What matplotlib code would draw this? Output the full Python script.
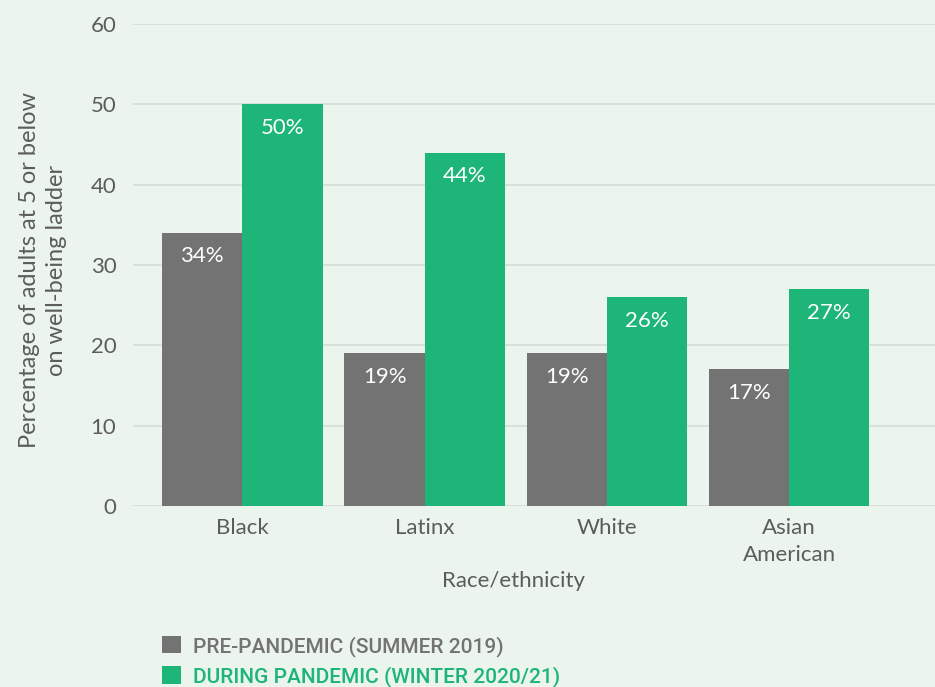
import matplotlib.pyplot as plt
import numpy as np

# donnees
groupes = ["Black", "Latinx", "White", "Asian\nAmerican"]
avant = [34, 19, 19, 17]      # pre-pandemie (ete 2019)
pendant = [50, 44, 26, 27]    # pendant la pandemie (hiver 2020/21)
noms_series = ["PRE-PANDEMIC (SUMMER 2019)", "DURING PANDEMIC (WINTER 2020/21)"]
yticks = [0, 10, 20, 30, 40, 50, 60]

fond = "#ebf5ee"
gris = "#737373"
vert = "#1db578"
texte = "#5c5c5c"

plt.rcParams["font.family"] = ["Lato", "DejaVu Sans"]

fig = plt.figure(figsize=(9.35, 6.87), dpi=100, facecolor=fond)
ax = fig.add_axes([133 / 935, 1 - 506 / 687, 1 - 133 / 935, (506 - 24) / 687])
ax.set_facecolor(fond)

x = np.arange(len(groupes))
w = 0.44
b1 = ax.bar(x - w / 2, avant, w, color=gris, zorder=3, label=noms_series[0])
b2 = ax.bar(x + w / 2, pendant, w, color=vert, zorder=3, label=noms_series[1])

# etiquettes dans le haut des barres
for barres, vals in [(b1, avant), (b2, pendant)]:
    for r, v in zip(barres, vals):
        ax.annotate(f"{v}%", (r.get_x() + r.get_width() / 2, r.get_height()),
                    xytext=(0, -17), textcoords="offset points",
                    ha="center", va="center", color="white", fontsize=16, zorder=4)

ax.set_xlim(-0.6, 3.8)
ax.set_ylim(0, 60)
ax.set_yticks(yticks)
ax.set_xticks(x)
ax.set_xticklabels(groupes, linespacing=1.4)
ax.grid(axis="y", color="#d3ddd6", linewidth=1.2, zorder=0)
for s in ax.spines.values():
    s.set_visible(False)
ax.tick_params(length=0, labelsize=16, labelcolor=texte)
ax.tick_params(axis="y", pad=12)
ax.tick_params(axis="x", pad=9)

ax.set_ylabel("Percentage of adults at 5 or below\non well-being ladder",
              fontsize=17, color=texte, linespacing=1.35)
ax.yaxis.set_label_coords(-(133 - 67) / (935 - 133), (506 - 270) / (506 - 24))
ax.set_xlabel("Race/ethnicity", fontsize=16, color=texte, labelpad=8)
ax.xaxis.set_label_coords((513 - 133) / (935 - 133), -0.135)

leg = fig.legend(handles=[b1, b2], loc="upper left",
                 bbox_to_anchor=(143 / 935, 1 - 617 / 687), frameon=False,
                 handlelength=0.9, handleheight=0.9, handletextpad=0.6,
                 labelspacing=0.45, labelcolor=[gris, vert],
                 prop={"family": "Roboto", "weight": "medium", "size": 15})

fig.savefig("out.png", dpi=100, facecolor=fond)
